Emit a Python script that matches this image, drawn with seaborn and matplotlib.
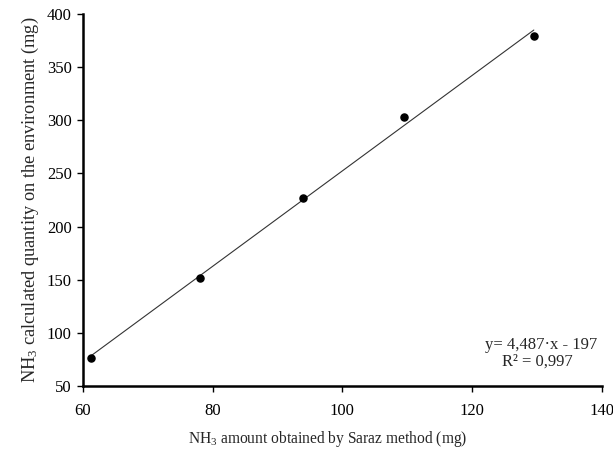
import numpy as np
import pandas as pd
import matplotlib
matplotlib.use('Agg')
import matplotlib.pyplot as plt
import seaborn as sns

# Data
saraz_mg = [61.2, 78.0, 94.0, 109.5, 129.5]
calc_mg = [76, 152, 227, 303, 379]
eq_text = 'y= 4,487·x - 197'
r2_text = 'R² = 0,997'

df = pd.DataFrame({'x': saraz_mg, 'y': calc_mg})

sns.set_style('ticks')
plt.rcParams['font.family'] = ['Liberation Serif', 'DejaVu Serif']
plt.rcParams['mathtext.fontset'] = 'custom'
plt.rcParams['mathtext.rm'] = 'Liberation Serif'
plt.rcParams['mathtext.it'] = 'Liberation Serif:italic'

fig = plt.figure(figsize=(6.13, 4.54), dpi=100)
ax = fig.add_axes([0.135, 0.150, 0.847, 0.819])

sns.regplot(data=df, x='x', y='y', ax=ax, ci=None, truncate=True,
            marker='o', color='black',
            scatter_kws={'s': 26, 'zorder': 3, 'alpha': 1},
            line_kws={'linewidth': 0.8, 'color': '#333333'})

ax.set_xlim(60, 140)
ax.set_ylim(50, 400)
ax.set_xticks([60, 80, 100, 120, 140])
ax.set_yticks([50, 100, 150, 200, 250, 300, 350, 400])
ax.tick_params(labelsize=12, length=4, width=1, colors='black')
ax.tick_params(axis='x', pad=8)
ax.tick_params(axis='y', pad=4)

for side in ['top', 'right']:
    ax.spines[side].set_visible(False)
for side in ['left', 'bottom']:
    ax.spines[side].set_linewidth(1.8)
    ax.spines[side].set_color('black')

ax.set_xlabel(r'NH$_3$ amount obtained by Saraz method (mg)', fontsize=11.2, labelpad=8)
ax.xaxis.set_label_coords(0.472, -0.115)
ax.set_ylabel(r'NH$_3$ calculated quantity on the environment (mg)', fontsize=13.2, labelpad=4)

ax.text(0.990, 0.110, eq_text, transform=ax.transAxes, ha='right', va='center', fontsize=12)
ax.text(0.944, 0.064, r2_text, transform=ax.transAxes, ha='right', va='center', fontsize=12)

fig.savefig('out.png', dpi=100)
